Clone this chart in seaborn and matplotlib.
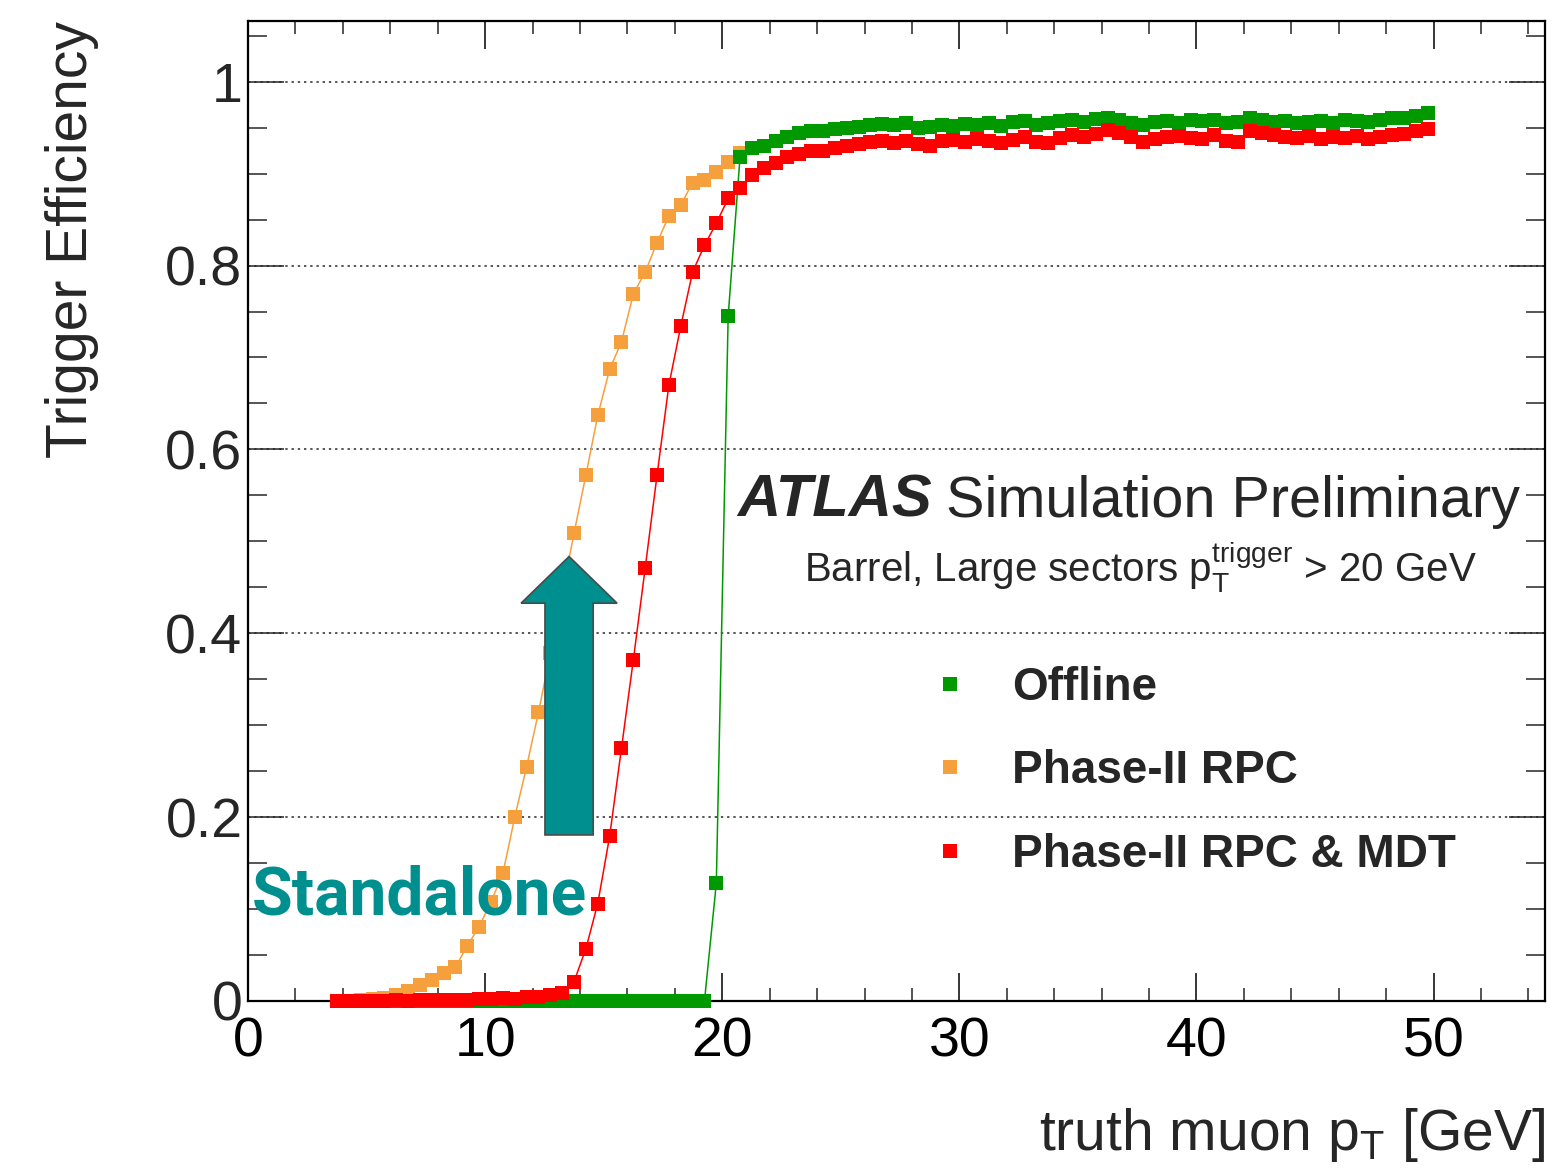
import numpy as np
import pandas as pd
import matplotlib
matplotlib.use("Agg")
import matplotlib.pyplot as plt
import seaborn as sns
from matplotlib.lines import Line2D
from matplotlib.patches import FancyArrow
from matplotlib.ticker import MultipleLocator

# ---------------- data (bin centres, 0.5 GeV bins) ----------------
pt_bins = np.arange(3.75, 50.0, 0.5)

eff_rpc = [0.000, 0.000, 0.001, 0.002, 0.003, 0.006, 0.011, 0.017, 0.023, 0.030,
           0.037, 0.060, 0.081, 0.108, 0.139, 0.200, 0.255, 0.314, 0.378, 0.443,
           0.509, 0.572, 0.637, 0.687, 0.717, 0.769, 0.793, 0.825, 0.854, 0.866,
           0.890, 0.893, 0.902, 0.913, 0.922]

eff_rpc_mdt = [0.000, 0.000, 0.000, 0.000, 0.000, 0.001, 0.000, 0.001, 0.001, 0.001,
               0.001, 0.001, 0.002, 0.002, 0.003, 0.002, 0.004, 0.004, 0.006, 0.009,
               0.021, 0.057, 0.106, 0.179, 0.275, 0.371, 0.471, 0.572, 0.670, 0.734,
               0.793, 0.822, 0.846, 0.873, 0.884, 0.899, 0.906, 0.912, 0.918, 0.921,
               0.925, 0.925, 0.928, 0.930, 0.932, 0.934, 0.935, 0.933, 0.936, 0.932,
               0.930, 0.935, 0.937, 0.934, 0.938, 0.936, 0.933, 0.937, 0.940, 0.934,
               0.933, 0.939, 0.942, 0.940, 0.943, 0.947, 0.944, 0.940, 0.934, 0.938,
               0.940, 0.941, 0.939, 0.938, 0.942, 0.936, 0.934, 0.946, 0.944, 0.942,
               0.940, 0.939, 0.941, 0.938, 0.940, 0.939, 0.941, 0.938, 0.940, 0.942,
               0.943, 0.946, 0.948]

eff_offline = [0.000] * 30 + [
               0.000, 0.000, 0.128, 0.745, 0.918, 0.928, 0.930, 0.936, 0.940, 0.944,
               0.946, 0.946, 0.948, 0.950, 0.951, 0.953, 0.954, 0.953, 0.955, 0.950,
               0.951, 0.953, 0.952, 0.954, 0.953, 0.955, 0.952, 0.956, 0.957, 0.953,
               0.955, 0.957, 0.958, 0.956, 0.959, 0.960, 0.958, 0.955, 0.953, 0.956,
               0.957, 0.955, 0.958, 0.957, 0.958, 0.955, 0.956, 0.960, 0.958, 0.956,
               0.957, 0.955, 0.956, 0.957, 0.955, 0.958, 0.957, 0.956, 0.958, 0.960,
               0.961, 0.963, 0.966]

series_labels = ["Offline", "Phase-II RPC", "Phase-II RPC & MDT"]
series_colors = {"Offline": "#009a00", "Phase-II RPC": "#f5a03c", "Phase-II RPC & MDT": "#ff0000"}

df = pd.concat([
    pd.DataFrame({"pt": pt_bins[:len(eff_rpc)], "eff": eff_rpc, "series": "Phase-II RPC"}),
    pd.DataFrame({"pt": pt_bins[:len(eff_offline)], "eff": eff_offline, "series": "Offline"}),
    pd.DataFrame({"pt": pt_bins[:len(eff_rpc_mdt)], "eff": eff_rpc_mdt, "series": "Phase-II RPC & MDT"}),
], ignore_index=True)

# ---------------- style ----------------
sns.set_style("ticks")
plt.rcParams["font.family"] = ["Liberation Sans", "DejaVu Sans"]
plt.rcParams["mathtext.fontset"] = "custom"
plt.rcParams["mathtext.rm"] = "Liberation Sans"
plt.rcParams["mathtext.it"] = "Liberation Sans:italic"
plt.rcParams["mathtext.bf"] = "Liberation Sans:bold"

fig = plt.figure(figsize=(15.57, 11.68), dpi=100)
ax = fig.add_axes([0.1593, 0.1430, 0.8330, 0.8390])

for name in ["Phase-II RPC", "Offline", "Phase-II RPC & MDT"]:
    sub = df[df["series"] == name]
    sns.lineplot(data=sub, x="pt", y="eff", color=series_colors[name], marker="s",
                 markersize=10.3, markeredgewidth=0, linewidth=1.1, estimator=None,
                 legend=False, ax=ax, clip_on=False, zorder=3)

ax.set_xlim(0, 54.7)
ax.set_ylim(0, 1.066)

ax.xaxis.set_major_locator(MultipleLocator(10))
ax.xaxis.set_minor_locator(MultipleLocator(2))
ax.yaxis.set_major_locator(MultipleLocator(0.2))
ax.yaxis.set_minor_locator(MultipleLocator(0.05))
ax.set_yticks([0, 0.2, 0.4, 0.6, 0.8, 1.0])
ax.set_yticklabels(["0", "0.2", "0.4", "0.6", "0.8", "1"])

ax.tick_params(axis="x", which="major", direction="in", length=20, width=1.1,
               top=True, bottom=True, labelsize=40, pad=11, colors="black")
ax.tick_params(axis="x", which="minor", direction="in", length=9.5, width=1.1,
               top=True, bottom=True)
ax.tick_params(axis="y", which="major", direction="in", length=26, width=1.1,
               left=True, right=True, labelsize=40, pad=4)
ax.tick_params(axis="y", which="minor", direction="in", length=13.5, width=1.1,
               left=True, right=True)
for s in ax.spines.values():
    s.set_linewidth(1.6)
    s.set_color("black")

ax.yaxis.grid(True, which="major", linestyle=(0, (1.2, 2.0)), linewidth=1.4, color="#555555")
ax.set_axisbelow(True)

ax.set_ylabel("Trigger Efficiency", fontsize=41, loc="top", labelpad=48)
ax.set_xlabel(r"truth muon $\mathrm{p}_{\mathrm{T}}$ [GeV]", fontsize=41, loc="right", labelpad=27)

# ATLAS label
ax.text(0.377, 0.494, "ATLAS", transform=ax.transAxes, fontsize=43, fontweight="bold",
        fontstyle="italic", ha="left", va="baseline")
ax.text(0.981, 0.494, "Simulation Preliminary", transform=ax.transAxes, fontsize=41.5,
        ha="right", va="baseline")
ax.text(0.688, 0.4276,
        r"Barrel, Large sectors $\mathrm{p}_{\mathrm{T}}^{\mathrm{trigger}}$ > 20 GeV",
        transform=ax.transAxes, fontsize=29, ha="center", va="baseline")

# legend
handles = [Line2D([], [], marker="s", linestyle="none", markersize=10,
                  markeredgewidth=0, color=series_colors[n]) for n in series_labels]
leg = ax.legend(handles, series_labels, loc="upper left", bbox_to_anchor=(0.5235, 0.342),
                frameon=False, prop={"weight": "bold", "size": 33}, handlelength=1.0,
                handletextpad=0.85, labelspacing=0.86, borderpad=0, borderaxespad=0)

# Standalone annotation
teal = "#008f8f"
ax.text(0.17, 0.094, "Standalone", color=teal, fontsize=47.5, fontweight="bold",
        family=["Roboto", "DejaVu Sans"], ha="left", va="baseline", zorder=6)
arrow = FancyArrow(13.54, 0.1806, 0, 0.4835 - 0.1806, width=2.035, head_width=4.05,
                   head_length=0.0508, length_includes_head=True,
                   facecolor=teal, edgecolor="#4a4a4a", linewidth=1.2, zorder=6)
ax.add_patch(arrow)

fig.savefig("out.png", dpi=100)
